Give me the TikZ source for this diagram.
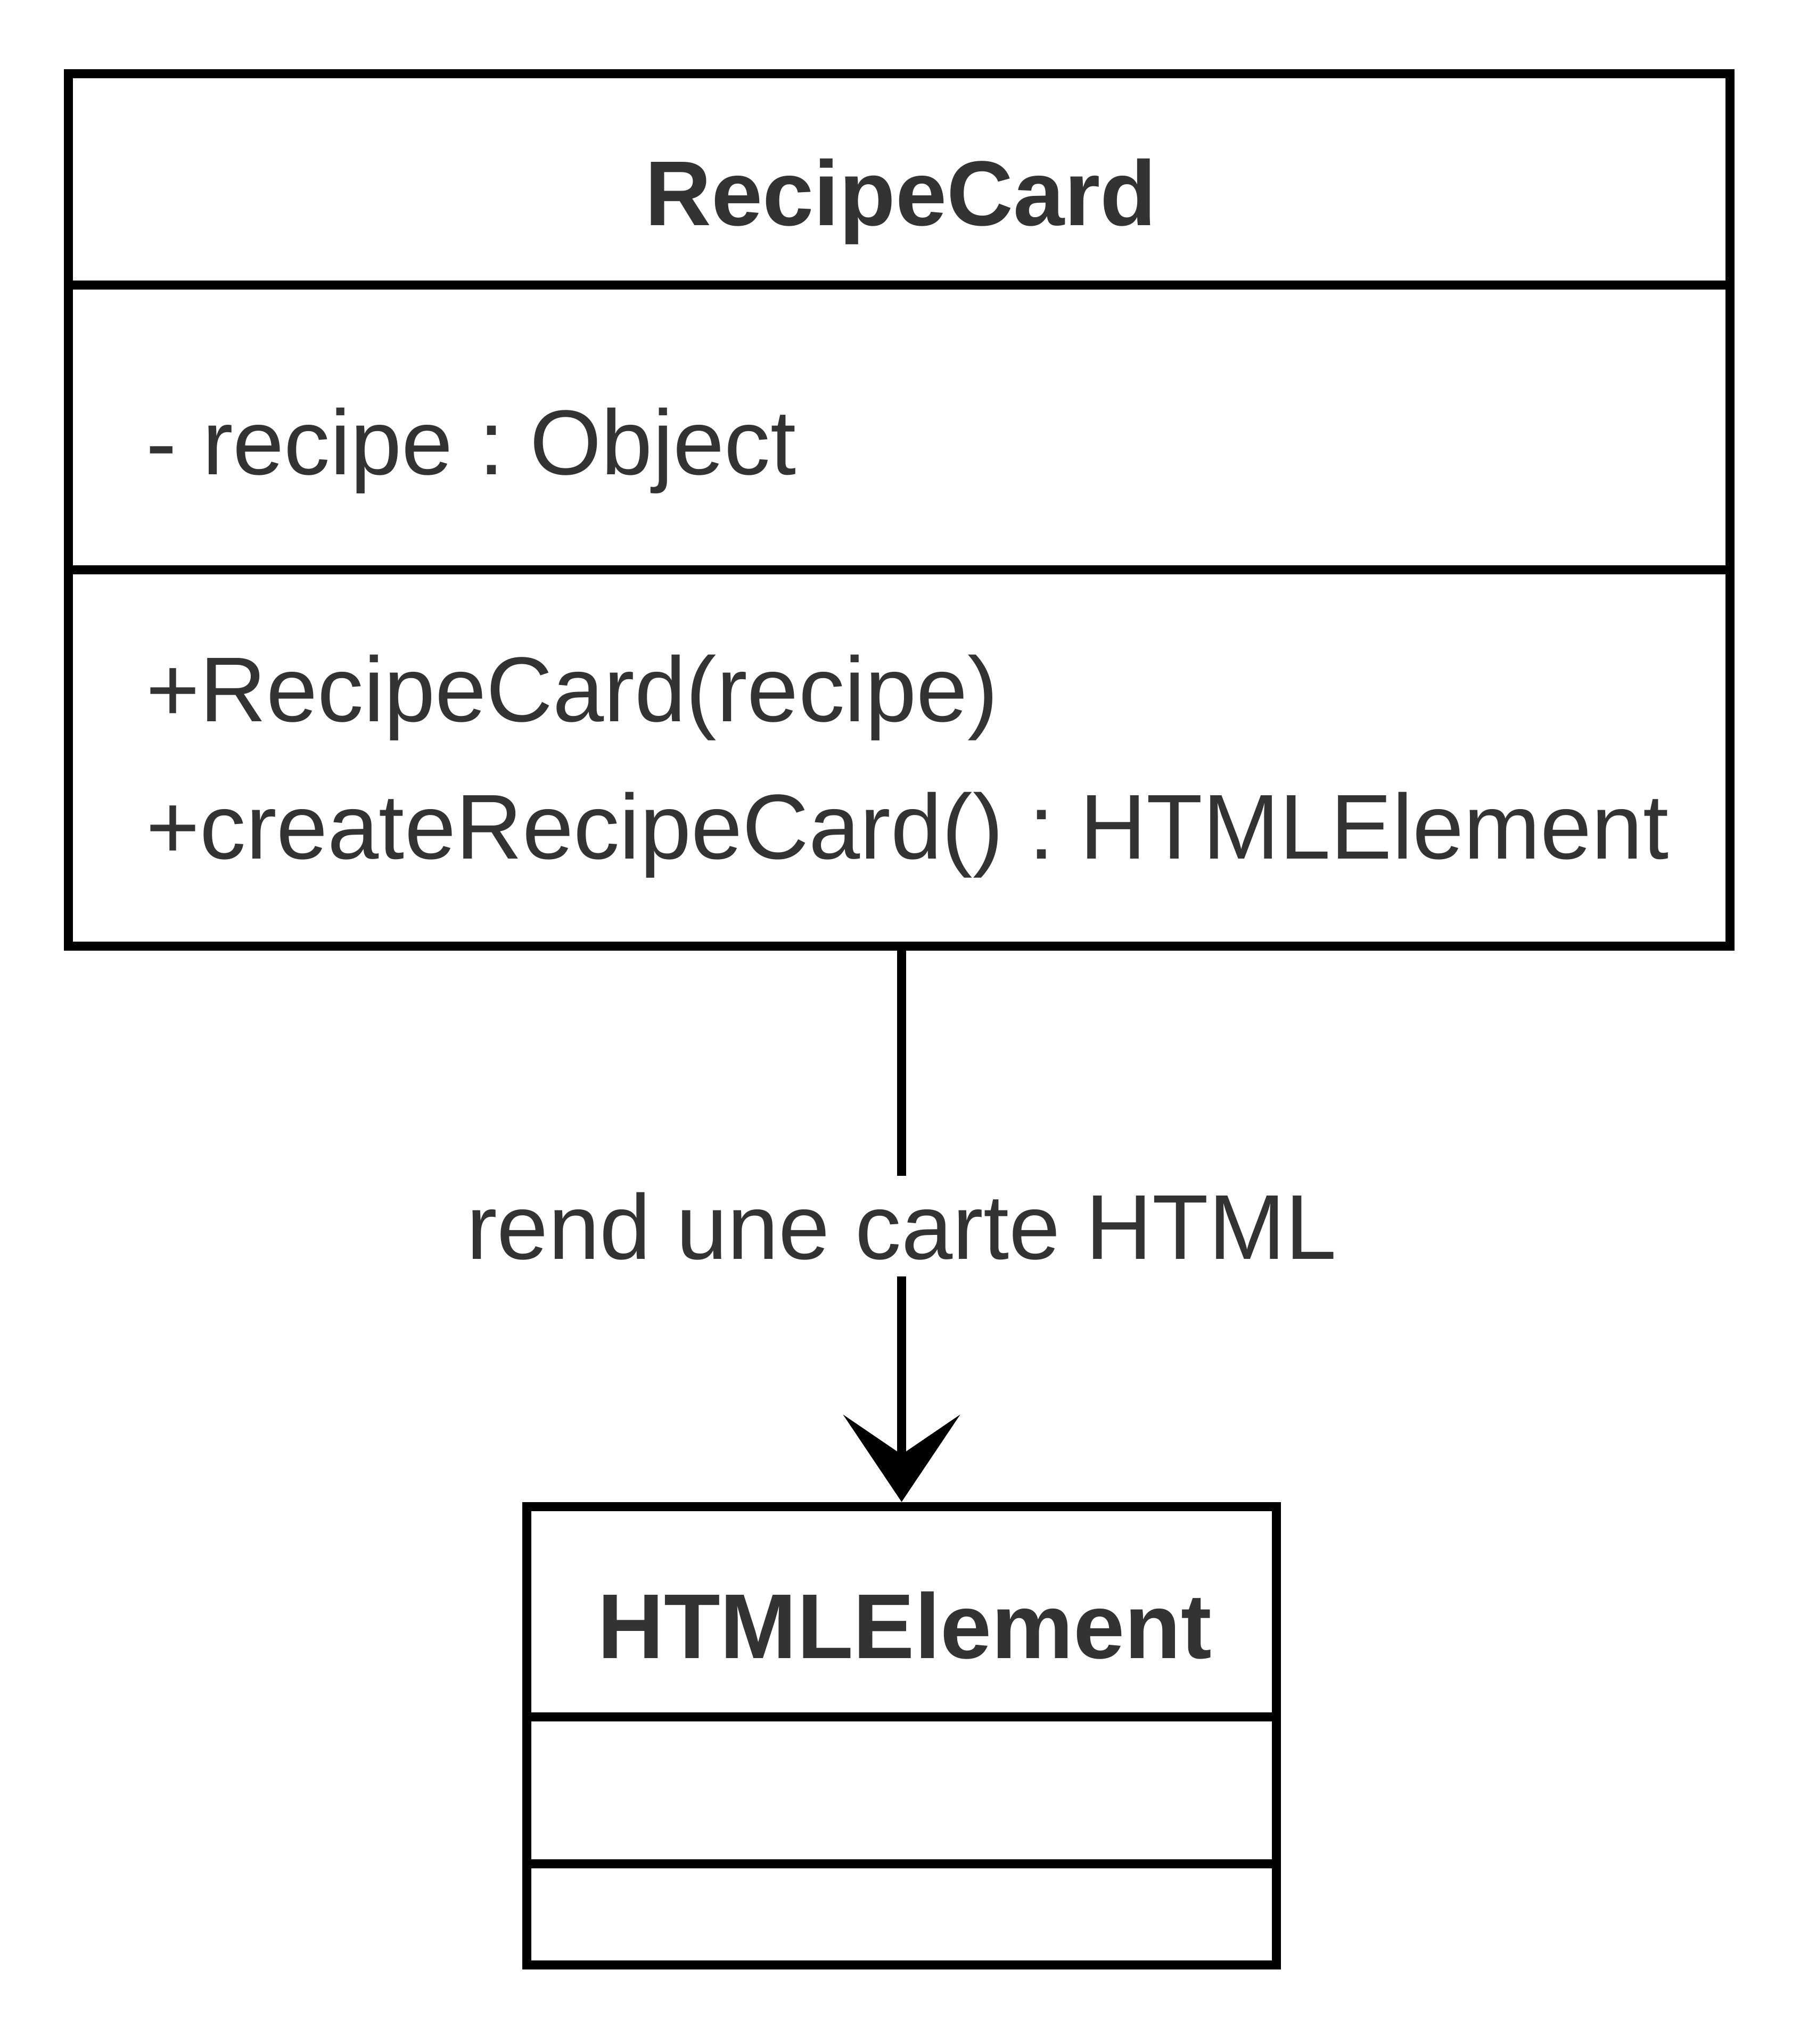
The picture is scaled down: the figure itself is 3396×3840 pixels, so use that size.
\documentclass[tikz,border=0pt]{standalone}
\usepackage{fontspec}
\setmainfont{Liberation Sans}
\usepackage{tikz}
\usetikzlibrary{arrows.meta}
\definecolor{textgray}{HTML}{333333}
\frenchspacing

\begin{document}
\begin{tikzpicture}[x=0.1pt, y=-0.1pt, line width=1.7pt]
	\useasboundingbox (0,0) rectangle (3396,3840);
	\fontsize{17.3}{20}\selectfont
	\tikzstyle{part}=[rectangle, draw=black, inner sep=0pt]
	\tikzstyle{txt}=[text=textgray, inner sep=0pt]
	% class RecipeCard
	\foreach \name/\y/\h in {recipeTitle/336.5/39.7,recipeAttr/802.5/53.5,recipeOps/1423.5/70.7} {
	    \node[part, minimum width=312.2pt, minimum height=\h pt] (\name) at (1689,\y) {};
	}
	\node[txt, font=\bfseries, anchor=base] (recipeName) at (1692,423) {RecipeCard};
	\node[txt, anchor=base west] (recipeField) at (266,891) {- recipe : Object};
	\node[txt, anchor=base west] (recipeCtor) at (266,1355) {+RecipeCard(recipe)};
	\node[txt, anchor=base west] (recipeMethod) at (266,1613) {+createRecipeCard() : HTMLElement};
	% class HTMLElement
	\foreach \name/\y/\h in {htmlTitle/3027.5/39.5,htmlAttr/3363/27.6,htmlOps/3596/19.0} {
	    \node[part, minimum width=140.9pt, minimum height=\h pt] (\name) at (1693.5,\y) {};
	}
	\node[txt, font=\bfseries, anchor=base] (htmlName) at (1699,3115) {HTMLElement};
	% dependency
	\draw[-{Stealth[length=16.4pt, width=22pt, inset=7.5pt, line width=0pt]}] (htmlTitle.north |- recipeOps.south)
	    -- node[txt, fill=white, inner ysep=3.1pt, inner xsep=2pt] (relLabel) {rend une carte HTML} (htmlTitle.north);
\end{tikzpicture}
\end{document}
